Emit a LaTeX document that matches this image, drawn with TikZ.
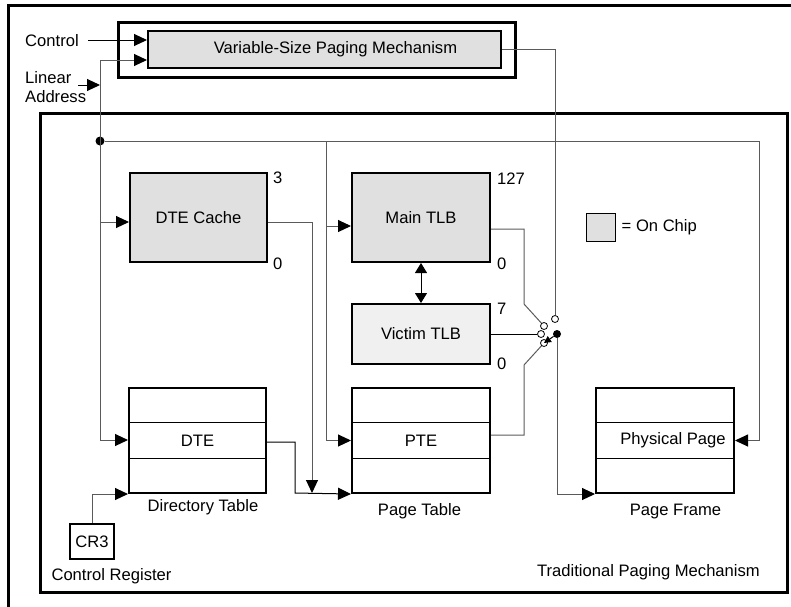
\documentclass[tikz,border=0pt]{standalone}
\usepackage{fontspec}
\setmainfont{Liberation Sans}
\usetikzlibrary{arrows.meta,calc,positioning}
\definecolor{chipgray}{HTML}{E0E0E0}
\definecolor{victimgray}{HTML}{F0F0F0}
\definecolor{wiregray}{HTML}{5A5A5A}
\tikzset{every node/.style={font=\fontsize{16.6}{19}\selectfont, inner sep=0pt},
    box/.style={draw, line width=2pt, minimum width=138pt},
    chip/.style={box, fill=chipgray, minimum height=89pt},
    pgtable/.style={box, minimum height=105pt},
    heavyframe/.style={draw, line width=3pt},
    wire/.style={draw=wiregray, line width=1pt},
    arr/.style={-{Triangle[length=13pt,width=12pt,black]}},
    contact/.style={circle, draw, fill=white, line width=0.8pt, minimum size=7pt},
    junction/.style={circle, fill, minimum size=9pt},
    }

\begin{document}
\begin{tikzpicture}[x=1pt,y=-1pt]
\useasboundingbox (0,0) rectangle (791,606);
\draw[line width=3pt] (8,610) -- (8,5) -- (795,5);

% variable-size paging
\node[heavyframe, minimum width=397pt, minimum height=55pt] (vspmframe) at (316.5,49.5) {};
\node[draw, line width=2pt, fill=chipgray, minimum width=353pt, minimum height=37pt] (vspm) at (324.5,49.5) {\hspace{22pt}Variable-Size Paging Mechanism};
\node[anchor=west] (ctrllabel) at (25,41) {Control};
\node[anchor=north west, align=left] (linlabel) at (25,71) {Linear\\Address};

% traditional paging
\node[heavyframe, minimum width=747pt, minimum height=479pt] (tpm) at (413.5,352.5) {};
\node[anchor=east] (tpmlabel) at (760,572) {Traditional Paging Mechanism};

\node[chip, minimum width=137pt] (dtecache) at (198.5,217.5) {DTE Cache\hspace{8pt}};
\node[chip] (maintlb) at (421,217.5) {Main TLB\hspace{10pt}};
\node[box, fill=victimgray, minimum height=60pt] (victimtlb) at (421,334) {Victim TLB};
\node[pgtable, minimum width=137pt] (dirtable) at (197.5,440.5) {DTE};
\node[pgtable] (pagetable) at (421,440.5) {PTE};
\node[pgtable] (pageframe) at (665,440.5) {\hspace{16pt}Physical Page};
\node[box, minimum width=44pt, minimum height=35pt] (cr3) at (92,541.5) {CR3};
\foreach \t in {dirtable,pagetable,pageframe}
    \draw[line width=1pt] ($(\t.north west)!1/3!(\t.south west)$) -- ($(\t.north east)!1/3!(\t.south east)$)
        ($(\t.north west)!2/3!(\t.south west)$) -- ($(\t.north east)!2/3!(\t.south east)$);

\node (dtelabel) at (203,507) {Directory Table};
\node (ptlabel) at (419.5,511) {Page Table};
\node (pflabel) at (675.5,511) {Page Frame};
\node (cr3label) at (111.5,576) {Control Register};

\node[anchor=west] (dtehi) at (273,178) {3};
\node[anchor=west] (dtelo) at (273,264) {0};
\node[anchor=west] (mainhi) at (497,179) {127};
\node[anchor=west] (mainlo) at (497,264) {0};
\node[anchor=west] (victimhi) at (497,309) {7};
\node[anchor=west] (victimlo) at (497,364) {0};

\node[draw, line width=1pt, fill=chipgray, minimum width=29pt, minimum height=28pt] (legend) at (600.5,227) {};
\node[anchor=west, right=6pt of legend] (legendtext) {= On Chip};

% switch
\node[contact] (c1) at (555,319) {};
\node[contact] (c2) at (544,326) {};
\node[contact] (c3) at (541,334) {};
\node[contact] (c4) at (544,343) {};
\node[junction, minimum size=8pt] (pivot) at (557,334) {};

% bus
\coordinate (ctrlin) at (88,40);
\coordinate (linin) at (78,85);
\coordinate (bustop) at (100,60);
\coordinate (busbot) at (100,440);
\node[junction] (busdot) at (100,141) {};
\coordinate (pfright) at (759,141);
\coordinate (ptbus) at (326,141);
\coordinate (merge) at (312,493);
\coordinate (dteturn) at (295,493);
\coordinate (mtbend) at (524,304);
\coordinate (ptbend) at (524,365);

\draw[wire, draw=black, arr] (ctrlin) -- (ctrlin -| vspm.west);
\draw[wire, draw=black, arr] (linin) -- (linin -| bustop);
\draw[wire, arr] (busbot) -- (bustop) -- (bustop -| vspm.west);
\draw[wire, arr] (busbot) -- (busbot -| dirtable.west);
\draw[wire, arr] (busdot |- 0,222) -- (dtecache.west |- 0,222);
\draw[wire, arr] (busdot) -- (pfright) |- (pageframe.east);
\draw[wire, arr] (ptbus) |- (pagetable.west);
\draw[wire, arr] (ptbus |- 0,226) -- (maintlb.west |- 0,226);
\draw[wire, arr] (dtecache.east |- 0,222) -| (merge);
\draw[wire, draw=black, arr] (dirtable.east |- 0,442) -| (dteturn) -- (pagetable.south west);
\draw[wire, arr] (cr3.north) |- (dirtable.south west);
\draw[wire, draw=black, {Triangle[length=10pt,width=12pt]}-{Triangle[length=10pt,width=12pt]}] (maintlb.south) -- (victimtlb.north);

\draw[wire] (vspm.east) -| (c1);
\draw[wire] (maintlb.east |- 0,229) -| (mtbend) -- (c2);
\draw[wire, draw=black] (victimtlb.east) -- (c3);
\draw[wire] (pagetable.east |- 0,435) -| (ptbend) -- (c4);
\draw[black, line width=1pt, -{Triangle[length=7pt,width=7pt]}] (pivot) -- (c4.center);
\draw[wire, arr] (pivot) |- (pageframe.south west);
\end{tikzpicture}
\end{document}
